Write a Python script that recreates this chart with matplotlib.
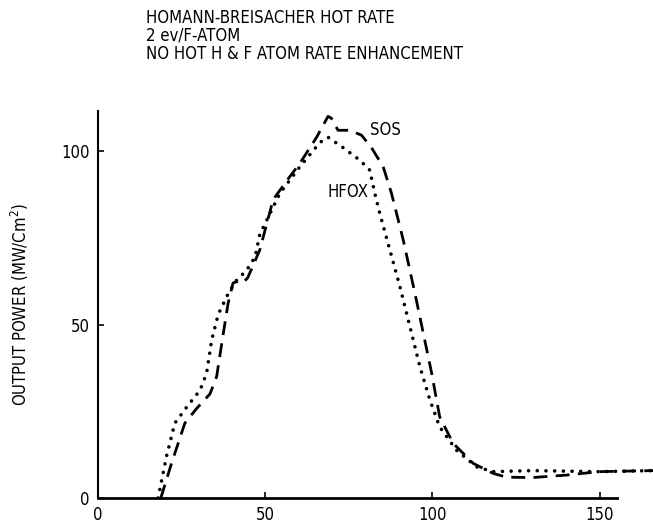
import numpy as np
import matplotlib
matplotlib.use("Agg")
import matplotlib.pyplot as plt

# narrow face for all labels
plt.rcParams['font.family'] = ['DejaVu Sans']
plt.rcParams['font.stretch'] = 'condensed'

# SOS curve (dashed)
sos_x = [18.8, 22.0, 26.0, 29.5, 33.5, 35.5, 37.5, 38.9, 40.4, 42.0, 43.3, 44.8, 48.4,
         52.4, 56.5, 60.4, 65.4, 68.8, 69.8, 71.8, 75.3, 78.8, 81.8, 85.3, 87.8,
         91.3, 94.8, 97.3, 99.8, 102.2, 106.2, 112.2, 118.2, 122.2, 130.0, 140.0,
         150.0, 166.0]
sos_y = [0.0, 10.0, 21.6, 25.8, 30.0, 35.0, 47.5, 56.0, 62.0, 62.5, 62.0, 63.5, 71.5,
         86.0, 91.5, 96.5, 104.0, 110.0, 109.5, 106.0, 106.0, 104.6, 101.0, 95.5, 87.8,
         74.4, 59.0, 47.5, 36.0, 23.4, 15.8, 10.0, 7.1, 6.0, 5.9, 6.6,
         7.6, 7.9]

# HFOX curve (dotted)
hfox_x = [18.0, 20.5, 23.0, 27.0, 30.5, 32.5, 34.0, 36.0, 39.0, 41.5, 44.5, 47.0,
          48.4, 54.4, 60.4, 66.4, 68.8, 73.3, 78.3, 81.3, 82.8, 84.3, 87.3, 90.3,
          93.3, 96.3, 99.3, 102.2, 107.2, 113.2, 118.1, 130.0, 150.0, 166.0]
hfox_y = [0.0, 12.0, 21.6, 26.8, 31.0, 36.0, 45.5, 53.0, 59.0, 62.8, 65.7, 69.5,
          76.0, 87.8, 95.5, 102.5, 104.0, 101.0, 97.4, 94.5, 87.8, 82.0, 71.5, 61.0,
          49.4, 37.8, 28.2, 20.5, 13.8, 9.0, 7.6, 7.9, 7.6, 7.9]

xticks = [0, 50, 100, 150]
yticks = [0, 50, 100]

fig = plt.figure(figsize=(6.53, 5.27), dpi=100)
ax = fig.add_axes([0.150, 0.055, 0.850, 0.734])

ax.plot(sos_x, sos_y, color='black', lw=2.0, linestyle=(0, (5, 3)))
ax.plot(hfox_x, hfox_y, color='black', lw=2.6, linestyle=(0, (0.01, 2.4)),
        dash_capstyle='round')

ax.set_xlim(0, 166)
ax.set_ylim(0, 111.5)
ax.set_xticks(xticks)
ax.set_yticks(yticks)
ax.tick_params(direction='in', length=4, width=1.2, labelsize=12, pad=6)

for side in ['top', 'right']:
    ax.spines[side].set_visible(False)
ax.spines['bottom'].set_bounds(0, 155.2)
ax.spines['bottom'].set_linewidth(2.0)
ax.spines['left'].set_linewidth(1.5)

ax.set_ylabel('OUTPUT POWER (MW/Cm$^2$)', fontsize=12, labelpad=22)

# curve labels
ax.text(81.3, 106.0, 'SOS', fontsize=12, va='center')
ax.text(68.8, 88.2, 'HFOX', fontsize=12, va='center')

fig.text(0.224, 0.965, 'HOMANN-BREISACHER HOT RATE', fontsize=12, va='center')
fig.text(0.224, 0.932, '2 ev/F-ATOM', fontsize=12, va='center')
fig.text(0.224, 0.897, 'NO HOT H & F ATOM RATE ENHANCEMENT', fontsize=12, va='center')

fig.savefig('out.png', dpi=100)
